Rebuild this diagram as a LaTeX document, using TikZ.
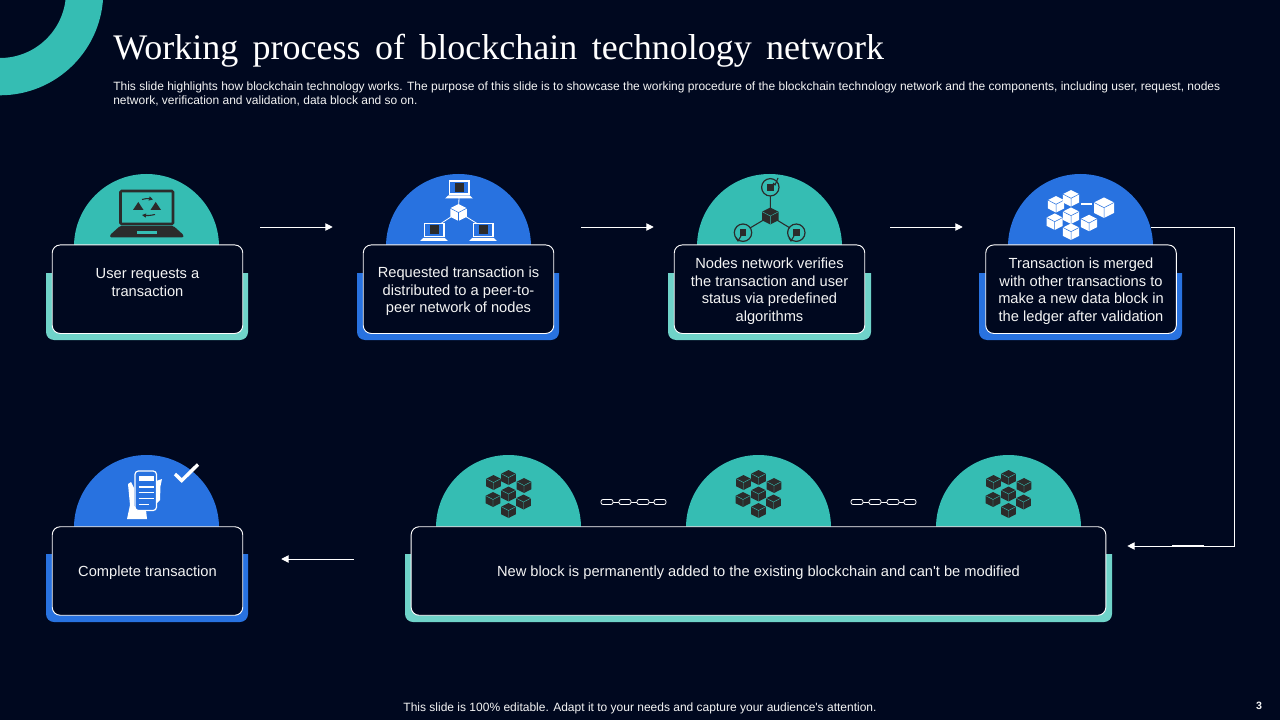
\documentclass[tikz,border=0pt]{standalone}
\usepackage{fontspec}
\setmainfont{Liberation Sans}
\newfontfamily\titlefont{Liberation Serif}
\usepackage{tikz}
\usetikzlibrary{positioning, arrows.meta}
\definecolor{slidebg}{HTML}{00081F}
\definecolor{dometeal}{HTML}{35BDB3}
\definecolor{baseteal}{HTML}{6FD3C9}
\definecolor{domeblue}{HTML}{2872E0}
\definecolor{iconink}{HTML}{2B2B2B}
\definecolor{paper}{HTML}{F4F4F4}
\newcommand{\lift}{\rule{0pt}{11pt}}
\tikzset{
    blockcube/.pic={
        \path[pic actions, draw=none] (0,-7.5) -- (7.3,-3.8) -- (7.3,3.8) -- (0,7.5) -- (-7.3,3.8) -- (-7.3,-3.8) -- cycle;
        \draw[pic actions, fill=none] (-7.3,-3.8) -- (0,0) -- (7.3,-3.8) (0,0) -- (0,7.5);
    },
    laptop/.pic={
        \fill[white] (-10.5,-8) rectangle (10.5,6.3);
        \fill[domeblue] (-9.2,-6.8) rectangle (9.2,5);
        \fill[iconink] (-4.5,-5.5) rectangle (4.5,3.5);
        \fill[white] (-10.5,6.8) -- (10.5,6.8) -- (14,10) -- (-14,10) -- cycle;
    },
    checknode/.pic={
        \draw[iconink, line width=.9pt] (0,0) circle (8.7);
        \fill[iconink] (-3.4,-3.4) rectangle (3.4,3.4);
    }
}
\begin{document}
\begin{tikzpicture}[
    x=.75pt, y=-.75pt,
    card/.style={draw=white, fill=slidebg, text=paper, line width=.7pt, rounded corners=6pt, inner sep=0pt,
        minimum width=142.9pt, minimum height=66.4pt, align=center, font=\fontsize{11}{13.3}\selectfont},
    dome/.style={circle, inner sep=0pt, minimum size=108.75pt},
    base/.style={rounded corners=6pt},
    flow/.style={draw=white, line width=.7pt, -{Triangle[length=5.5pt,width=5.5pt]}},
    darkcube/.style={fill=iconink, draw=dometeal, line width=.3pt},
    whitecube/.style={fill=white, draw=domeblue, line width=.4pt},
    link/.style={draw=white, fill=slidebg, line width=.6pt, rounded corners=1.5pt}
    ]
\useasboundingbox (0,0) rectangle (1280,720);
\fill[slidebg] (0,0) rectangle (1280,720);
\clip (0,0) rectangle (1280,720);
\fill[dometeal, even odd rule] (0,-8) circle (103.3) (0,-8) circle (66);

\node[anchor=west, text=white, inner sep=0pt, font=\titlefont\fontsize{27}{32}\selectfont] (title) at (113,51)
    {\spaceskip=.4em Working process of blockchain technology network};
\node[anchor=north west, text=paper, inner sep=0pt, align=left, font=\fontsize{9}{10.5}\selectfont] (intro) at (113,82)
    {This slide highlights how blockchain technology works. The purpose of this slide is to showcase the working procedure of the blockchain technology network and the components, including user, request, nodes\\
    network, verification and validation, data block and so on.};

% top row
\node[dome, fill=dometeal] (dome1) at (146.5,246.5) {};
\fill[baseteal, base] (46,273) -- (46,340) -- (248,340) -- (248,273);
\node[card] (card1) at (147.5,289.2) {\lift User requests a\\transaction\\~};

\node[dome, fill=domeblue] (dome2) at (458.5,246.5) {};
\fill[domeblue, base] (357,273) -- (357,340) -- (559,340) -- (559,273);
\node[card] (card2) at (458.5,289.2) {\lift Requested transaction is\\distributed to a peer-to-\\peer network of nodes};

\node[dome, fill=dometeal] (dome3) at (769.5,246.5) {};
\fill[baseteal, base] (668,273) -- (668,340) -- (871,340) -- (871,273);
\node[card] (card3) at (769.5,289.2) {\lift Nodes network verifies\\the transaction and user\\status via predefined\\algorithms};

\node[dome, fill=domeblue] (dome4) at (1080.5,246.5) {};
\fill[domeblue, base] (979,273) -- (979,340) -- (1182,340) -- (1182,273);
\node[card] (card4) at (1081,289.2) {\lift Transaction is merged\\with other transactions to\\make a new data block in\\the ledger after validation};

% bottom row
\node[dome, fill=domeblue] (dome5) at (146.5,527.5) {};
\fill[domeblue, base] (46,554) -- (46,622) -- (248,622) -- (248,554);
\node[card] (card5) at (147.5,571) {\lift Complete transaction};

\node[dome, fill=dometeal] (dome6) at (508.5,527.5) {};
\node[dome, fill=dometeal] (dome7) at (758.5,527.5) {};
\node[dome, fill=dometeal] (dome8) at (1008.5,527.5) {};
\fill[baseteal, base] (405,554) -- (405,622) -- (1112,622) -- (1112,554);
\node[card, minimum width=521pt] (card6) at (758.5,571) {\lift New block is permanently added to the existing blockchain and can\textquotesingle t be modified};

% connectors
\draw[flow] ([shift={(41,-19.5)}]dome1.east) -- ([shift={(-53,-19.5)}]dome2.west);
\draw[flow] ([shift={(50,-19.5)}]dome2.east) -- ([shift={(-43,-19.5)}]dome3.west);
\draw[flow] ([shift={(48,-19.5)}]dome3.east) -- ([shift={(-45,-19.5)}]dome4.west);
\coordinate (turn) at (1234,546);
\draw[flow] (dome4.15) -- (dome4.15 -| turn) -- (turn) -- ([shift={(21,-25)}]card6.east);
\draw[white, line width=1.3pt] (1172,545.5) -- (1204,545.5);
\draw[flow] ([shift={(-57,-12)}]card6.west) -- ([shift={(38,-12)}]card5.east);

% chains between the domes
\foreach \cx in {601,851} {
    \draw[white, line width=.6pt] (\cx,502) -- (\cx+65,502);
    \foreach \dx in {0,18,36,53}
        \draw[link] (\cx+\dx,499.5) rectangle (\cx+\dx+12,504.5);
}

% icon: laptop with arrows
\draw[iconink, line width=1.9pt, fill=dometeal, rounded corners=.8pt] (120.5,191) rectangle (173,224);
\fill[iconink, rounded corners=1pt] (120,226) -- (173.5,226) -- (183.5,235) -- (183.5,237.5) -- (110,237.5) -- (110,235) -- cycle;
\fill[dometeal] (137,231.5) rectangle (157,234);
\fill[iconink] (138.3,202) -- (143.5,210) -- (133,210) -- cycle;
\fill[iconink] (155.7,202) -- (161,210) -- (150.5,210) -- cycle;
\draw[iconink, line width=.8pt, -{Triangle[length=3pt,width=3pt]}] (142,199.5) to[bend left=15] (153,199.5);
\draw[iconink, line width=.8pt, -{Triangle[length=3pt,width=3pt]}] (155,214.5) to[bend left=10] (142,215);

% icon: cube with laptops
\draw[white, line width=.6pt] (458.5,212) -- (459,197) (458.5,212) -- (437,226) (458.5,212) -- (481,226);
\pic at (459,188.5) {laptop};
\pic at (434,231) {laptop};
\pic at (483,231) {laptop};
\pic[whitecube, scale=1.13] at (458.5,212.5) {blockcube};

% icon: cube with checked nodes
\draw[iconink, line width=.8pt] (770.3,216) -- (770.3,196) (770.3,216) -- (750,228) (770.3,216) -- (790,228);
\pic[fill=iconink, draw=dometeal, line width=.3pt, scale=1.13] at (770.3,216) {blockcube};
\pic at (770.3,187.3) {checknode};
\pic at (743,232.7) {checknode};
\pic at (796.3,232.7) {checknode};
\draw[iconink, line width=.8pt] (773,183) -- (775,185) -- (778,178);
\draw[iconink, line width=.8pt] (736,238) -- (738,241) -- (741,236);
\draw[iconink, line width=.8pt] (789,238) -- (791,241) -- (794,236);

% icon: merged cubes
\draw[white, line width=1.2pt] (1081,204.3) -- (1092,204.3);
\foreach \px/\py in {1056/204.3, 1071/198.3, 1071/215.7, 1054.7/221.7, 1089/223, 1071/231.7}
    \pic[whitecube, scale=1.1] at (\px,\py) {blockcube};
\pic[whitecube, scale=1.37] at (1104,207.7) {blockcube};

% icon: phone in hand
\fill[white] (128,484) -- (131,482) -- (134,488) -- (134,506) -- (146,510) -- (147,519) -- (127,519) -- (130,505) -- cycle;
\fill[white] (156,481) -- (162,479) -- (160.5,486) -- (160,500) -- (156,504) -- cycle;
\draw[white, line width=.9pt, fill=domeblue, rounded corners=2.5pt] (135,471) rectangle (156.5,510.5);
\fill[white] (138.5,476) rectangle (153.5,481);
\foreach \ly in {487,492.5,498.5}
    \draw[white, line width=.8pt] (138.5,\ly) -- (153.5,\ly);
\draw[white, line width=.8pt] (138.5,504.5) -- (149,504.5);
\draw[white, line width=2.6pt] (175,474) -- (181.7,480.5) -- (198,464.5);

% icon: three block clusters
\foreach \cx in {508.5,758.5,1008.5}
    \foreach \dx/\dy in {-15/-45, 0/-50, 15.5/-42, -15.5/-28, 0/-33.5, 15/-25.5, 0/-17}
        \pic[darkcube] at (\cx+\dx,527.5+\dy) {blockcube};

\node[text=paper, font=\fontsize{9}{11}\selectfont] (footer) at (640,708) {This slide is 100\% editable. Adapt it to your needs and capture your audience\textquotesingle s attention.};
\node[text=paper, font=\bfseries\fontsize{8}{10}\selectfont] (pageno) at (1259,706) {3};
\end{tikzpicture}
\end{document}
